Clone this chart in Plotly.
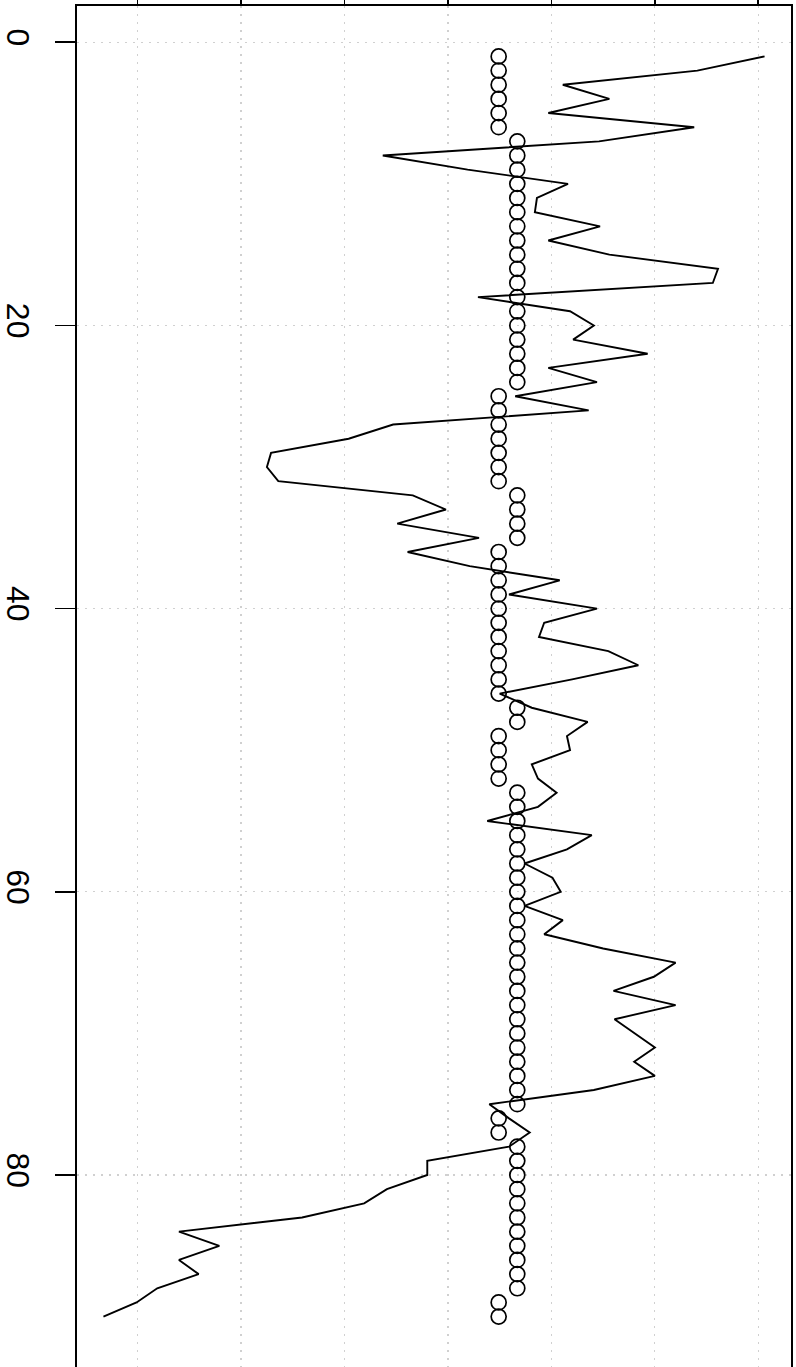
import plotly.graph_objects as go

index = list(range(1, 91))

series_values = [
    3.06, 2.41, 1.11, 1.56, 0.97, 2.38, 1.46, -0.63, 0.19, 1.16,
    0.86, 0.84, 1.47, 0.97, 1.56, 2.61, 2.56, 0.29, 1.18, 1.41,
    1.21, 1.93, 0.97, 1.44, 0.65, 1.36, -0.53, -0.96, -1.71, -1.75,
    -1.64, -0.34, -0.02, -0.49, 0.30, -0.39, 0.21, 1.08, 0.59, 1.44,
    0.93, 0.88, 1.55, 1.84, 1.20, 0.50, 0.81, 1.35, 1.15, 1.18,
    0.81, 0.87, 1.05, 0.87, 0.38, 1.39, 1.15, 0.74, 1.01, 1.09,
    0.74, 1.11, 0.93, 1.50, 2.20, 1.99, 1.60, 2.20, 1.61, 1.80,
    2.00, 1.80, 2.00, 1.41, 0.40, 0.59, 0.79, 0.59, -0.20, -0.20,
    -0.59, -0.81, -1.41, -2.60, -2.21, -2.60, -2.41, -2.81, -3.01, -3.33,
]

state_levels = {"L": 0.49, "H": 0.67}
state_runs = [("L", 6), ("H", 18), ("L", 7), ("H", 4), ("L", 11), ("H", 2),
              ("L", 4), ("H", 23), ("L", 2), ("H", 11), ("L", 2)]
state_values = []
for s, n in state_runs:
    state_values += [state_levels[s]] * n

value_ticks = [-3, -2, -1, 0, 1, 2, 3]
index_ticks = [0, 20, 40, 60, 80]
index_tick_labels = ["0", "20", "40", "60", "80"]

fig = go.Figure()
fig.add_trace(go.Scatter(
    x=state_values, y=index, mode="markers",
    marker=dict(symbol="circle-open", size=15, color="black",
                line=dict(width=1.7, color="black")),
    showlegend=False, hoverinfo="skip"))
fig.add_trace(go.Scatter(
    x=series_values, y=index, mode="lines",
    line=dict(color="black", width=1.9),
    showlegend=False, hoverinfo="skip"))

vmin, vmax = min(series_values), max(series_values)
pad = 0.04 * (vmax - vmin)
ipad = 0.04 * (max(index) - min(index))

fig.update_layout(
    width=796, height=1367,
    margin=dict(l=77, r=5, t=6, b=0),
    paper_bgcolor="white", plot_bgcolor="white",
    font=dict(family="Liberation Sans, Arial, sans-serif", color="black"),
    xaxis=dict(
        range=[vmin - pad, vmax + pad], side="top", automargin=False,
        tickvals=value_ticks, showticklabels=False,
        ticks="outside", ticklen=20, tickwidth=1.7, tickcolor="black",
        showline=True, linecolor="black", linewidth=1.7, mirror=True,
        showgrid=True, gridcolor="#d0d0d0", gridwidth=1.2, griddash="2px,6px",
        zeroline=False),
    yaxis=dict(
        range=[max(index) + ipad, min(index) - ipad], automargin=False,
        tickvals=index_ticks, ticktext=index_tick_labels,
        tickangle=90, tickfont=dict(size=32, color="black"),
        ticks="outside", ticklen=20, tickwidth=1.7, tickcolor="black",
        ticklabelstandoff=10,
        showline=True, linecolor="black", linewidth=1.7, mirror=True,
        showgrid=True, gridcolor="#d0d0d0", gridwidth=1.2, griddash="2px,6px",
        zeroline=False),
)

fig.write_html("out.html",
               config={"displayModeBar": False, "staticPlot": True},
               post_script="document.body.style.margin='0px';document.body.style.overflow='hidden';")
